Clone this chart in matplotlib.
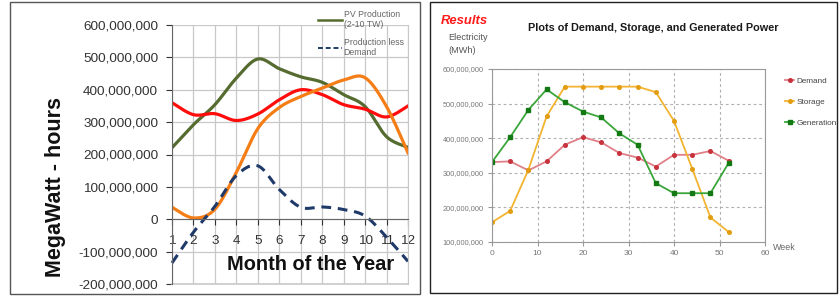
import numpy as np
import matplotlib.pyplot as plt
from matplotlib.lines import Line2D
from matplotlib.patches import Rectangle
from matplotlib.ticker import FuncFormatter

# left chart: monthly values (MWh)
months = list(range(1, 13))
pv_production = [221e6, 292e6, 354e6, 436e6, 495e6, 465e6, 440e6, 423e6, 385e6, 348e6, 255e6, 222e6]
demand_month = [360e6, 323e6, 326e6, 305e6, 325e6, 369e6, 400e6, 385e6, 354e6, 340e6, 316e6, 350e6]
storage_month = [37e6, 4e6, 31e6, 145e6, 280e6, 345e6, 379e6, 405e6, 430e6, 437e6, 348e6, 205e6]
prod_less_demand = [-135e6, -40e6, 40e6, 135e6, 165e6, 92e6, 37e6, 38e6, 30e6, 10e6, -55e6, -130e6]

# right chart: weekly values (MWh)
weeks = [0, 4, 8, 12, 16, 20, 24, 28, 32, 36, 40, 44, 48, 52]
demand_week = [331e6, 333e6, 307e6, 333e6, 381e6, 403e6, 388e6, 357e6, 344e6, 318e6, 352e6, 352e6, 363e6, 335e6]
storage_week = [157e6, 190e6, 309e6, 463e6, 549e6, 549e6, 549e6, 549e6, 549e6, 533e6, 450e6, 312e6, 171e6, 129e6]
generation_week = [331e6, 403e6, 482e6, 541e6, 504e6, 477e6, 460e6, 414e6, 381e6, 270e6, 241e6, 241e6, 241e6, 328e6]

plt.rcParams["font.family"] = ["Liberation Sans", "DejaVu Sans"]


def smooth(x, y, n=24):
    # catmull-rom curve through the points, like excel's smoothed line
    p = np.column_stack([x, y]).astype(float)
    p = np.vstack([p[0], p, p[-1]])
    t = np.linspace(0, 1, n, endpoint=False)[:, None]
    out = []
    for i in range(1, len(p) - 2):
        p0, p1, p2, p3 = p[i - 1], p[i], p[i + 1], p[i + 2]
        seg = 0.5 * (2 * p1 + (-p0 + p2) * t + (2 * p0 - 5 * p1 + 4 * p2 - p3) * t ** 2
                     + (-p0 + 3 * p1 - 3 * p2 + p3) * t ** 3)
        out.append(seg)
    out.append(p[-2][None, :])
    out = np.vstack(out)
    return out[:, 0], out[:, 1]


W, H = 840, 296
fig = plt.figure(figsize=(W / 100, H / 100), dpi=100)

# panel borders
fig.patches.append(Rectangle((10 / W, 1 - 294 / H), 410 / W, 292 / H, transform=fig.transFigure,
                             fill=False, ec="#555555", lw=1.0))
fig.patches.append(Rectangle((430 / W, 1 - 293 / H), 407 / W, 291 / H, transform=fig.transFigure,
                             fill=False, ec="#222222", lw=1.0))

# ---------- left chart ----------
axL = fig.add_axes([172 / W, 1 - 284 / H, 236 / W, 259 / H])
axL.set_xlim(1, 12)
axL.set_ylim(-2e8, 6e8)
axL.set_yticks(np.arange(-2e8, 6.01e8, 1e8))
axL.set_xticks(months)
axL.yaxis.set_major_formatter(FuncFormatter(lambda v, pos: f"{int(round(v)):,}"))
axL.grid(True, color="#c8c8c8", lw=0.9)
axL.set_axisbelow(True)
axL.spines["top"].set_visible(False)
axL.spines["right"].set_color("#c8c8c8")
axL.spines["left"].set_color("#666666")
axL.spines["bottom"].set_position(("data", 0))
axL.spines["bottom"].set_color("#666666")
axL.axhline(-2e8, color="#c8c8c8", lw=1.2, clip_on=False)
axL.tick_params(axis="y", length=4, pad=6, labelsize=9.7, colors="#333333")
axL.tick_params(axis="x", length=4, pad=7, labelsize=9.7, colors="#333333")
for lab in axL.get_yticklabels() + axL.get_xticklabels():
    lab.set_color("#333333")

gx, gy = smooth(months, pv_production)
axL.plot(gx, gy, color="#556b2f", lw=2.3, solid_capstyle="round")
rx, ry = smooth(months, demand_month)
axL.plot(rx, ry, color="#ff0d0d", lw=2.3)
ox, oy = smooth(months, storage_month)
axL.plot(ox, oy, color="#f57d15", lw=2.3)
dx, dy = smooth(months, prod_less_demand)
axL.plot(dx, dy, color="#1f3a68", lw=2.2, dashes=(3.2, 2.2), clip_on=False)

fig.text(311 / W, 1 - 265 / H, "Month of the Year", ha="center", va="center",
         fontsize=14.4, fontweight="bold", color="#111111")
fig.text(55 / W, 1 - 187 / H, "MegaWatt - hours", ha="center", va="center", rotation=90,
         fontsize=15.5, fontweight="bold", color="#111111")

fig.legend([Line2D([], [], color="#556b2f", lw=1.8),
            Line2D([], [], color="#1f3a68", lw=1.4, dashes=(2.5, 1.5))],
           ["PV Production\n(2-10 TW)", "Production less\nDemand"],
           loc="upper left", bbox_to_anchor=(314 / W, 1 - 6 / H), frameon=False,
           fontsize=6.3, handlelength=2.8, handletextpad=0.2, labelspacing=1.0,
           borderaxespad=0, labelcolor="#666666")

# ---------- right chart ----------
axR = fig.add_axes([492 / W, 1 - 242 / H, 273 / W, 173 / H])
axR.set_xlim(0, 60)
axR.set_ylim(1e8, 6e8)
axR.set_xticks(range(0, 61, 10))
axR.set_yticks(np.arange(1e8, 6.01e8, 1e8))
axR.yaxis.set_major_formatter(FuncFormatter(lambda v, pos: f"{int(round(v)):,}"))
axR.grid(True, color="#b0b0b0", lw=0.8, dashes=(2.5, 2.5))
axR.set_axisbelow(True)
for s in axR.spines.values():
    s.set_color("#999999")
axR.tick_params(length=3, pad=3, colors="#999999", labelsize=5.3)
axR.tick_params(axis="x", labelsize=6)
for lab in axR.get_yticklabels() + axR.get_xticklabels():
    lab.set_color("#777777")

axR.plot(weeks, demand_week, color="#e07f87", lw=1.3, marker="o", ms=2.6, mfc="#c8323c",
         mec="#c8323c", label="Demand")
axR.plot(weeks, storage_week, color="#f2b431", lw=1.3, marker="o", ms=2.6, mfc="#e39d10",
         mec="#e39d10", label="Storage")
axR.plot(weeks, generation_week, color="#3aa63a", lw=1.3, marker="s", ms=2.4, mfc="#137a13",
         mec="#137a13", label="Generation")

axR.legend(loc="upper left", bbox_to_anchor=(782 / W, 1 - 74 / H), bbox_transform=fig.transFigure,
           frameon=False, handlelength=1.1, handletextpad=0.3, labelspacing=1.6, borderaxespad=0,
           fontsize=5.9, labelcolor="#444444")

fig.text(773 / W, 1 - 248 / H, "Week", ha="left", va="center", color="#666666", fontsize=6.4)
fig.text(653 / W, 1 - 28 / H, "Plots of Demand, Storage, and Generated Power", ha="center",
         va="center", fontsize=7.8, fontweight="bold", color="#1a1a1a")
fig.text(441 / W, 1 - 21 / H, "Results", ha="left", va="center", color="#ff1a1a",
         fontsize=9.4, fontweight="bold", style="italic")
fig.text(448 / W, 1 - 44 / H, "Electricity\n(MWh)", ha="left", va="center", color="#555555",
         fontsize=6.6, linespacing=1.7)

fig.savefig("out.png", dpi=100)
